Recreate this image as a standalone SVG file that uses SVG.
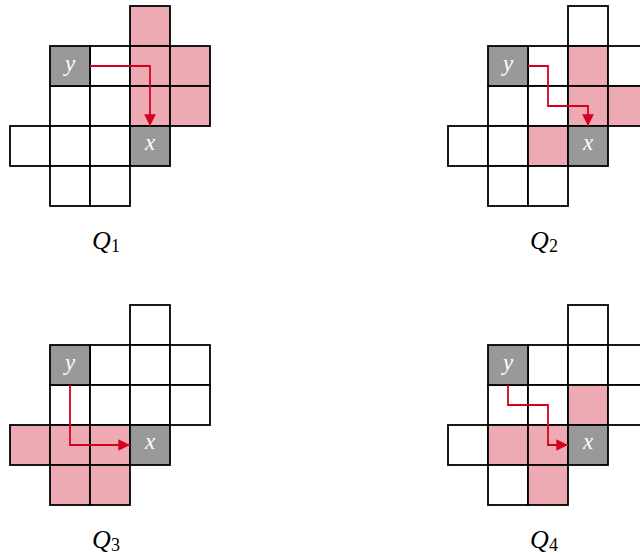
<svg xmlns="http://www.w3.org/2000/svg" width="640" height="557" viewBox="0 0 640 557">
<defs>
<style>
.c{fill:#ffffff;stroke:#000;stroke-width:1.8}
.p{fill:#EDAAB3;stroke:#000;stroke-width:1.8}
.g{fill:#999999;stroke:#000;stroke-width:1.8}
.v{font-family:"Liberation Serif","DejaVu Serif",serif;font-style:italic;font-size:23px;fill:#fff;text-anchor:middle}
.q{font-family:"Liberation Serif","DejaVu Serif",serif;font-style:italic;font-size:26px;fill:#000}
.s{font-family:"Liberation Serif","DejaVu Serif",serif;font-size:18px;fill:#000}
.a{fill:none;stroke:#D5001E;stroke-width:1.8;marker-end:url(#ah)}
</style>
<marker id="ah" viewBox="0 0 10 10" refX="10" refY="5" markerWidth="6.5" markerHeight="6.5" markerUnits="strokeWidth" orient="auto">
<path d="M0,0 L10,5 L0,10 Z" fill="#D5001E"/>
</marker>
</defs>

<g id="Q1">
<rect class="p" x="130" y="6" width="40" height="40"/>
<rect class="c" x="90" y="46" width="40" height="40"/>
<rect class="p" x="130" y="46" width="40" height="40"/>
<rect class="p" x="170" y="46" width="40" height="40"/>
<rect class="c" x="50" y="86" width="40" height="40"/>
<rect class="c" x="90" y="86" width="40" height="40"/>
<rect class="p" x="130" y="86" width="40" height="40"/>
<rect class="p" x="170" y="86" width="40" height="40"/>
<rect class="c" x="10" y="126" width="40" height="40"/>
<rect class="c" x="50" y="126" width="40" height="40"/>
<rect class="c" x="90" y="126" width="40" height="40"/>
<rect class="c" x="50" y="166" width="40" height="40"/>
<rect class="c" x="90" y="166" width="40" height="40"/>
<g id="Q1-y"><rect class="g" x="50" y="46" width="40" height="40"/><text class="v" x="70" y="71">y</text></g>
<g id="Q1-x"><rect class="g" x="130" y="126" width="40" height="40"/><text class="v" x="150" y="150">x</text></g>
<g id="Q1-label"><text class="q" x="92" y="249">Q</text><text class="s" x="111" y="252">1</text></g>
</g>

<g id="Q2">
<rect class="c" x="568" y="6" width="40" height="40"/>
<rect class="c" x="528" y="46" width="40" height="40"/>
<rect class="p" x="568" y="46" width="40" height="40"/>
<rect class="c" x="608" y="46" width="40" height="40"/>
<rect class="c" x="488" y="86" width="40" height="40"/>
<rect class="c" x="528" y="86" width="40" height="40"/>
<rect class="p" x="568" y="86" width="40" height="40"/>
<rect class="p" x="608" y="86" width="40" height="40"/>
<rect class="c" x="448" y="126" width="40" height="40"/>
<rect class="c" x="488" y="126" width="40" height="40"/>
<rect class="p" x="528" y="126" width="40" height="40"/>
<rect class="c" x="488" y="166" width="40" height="40"/>
<rect class="c" x="528" y="166" width="40" height="40"/>
<g id="Q2-y"><rect class="g" x="488" y="46" width="40" height="40"/><text class="v" x="508" y="71">y</text></g>
<g id="Q2-x"><rect class="g" x="568" y="126" width="40" height="40"/><text class="v" x="588" y="150">x</text></g>
<g id="Q2-label"><text class="q" x="530" y="249">Q</text><text class="s" x="549" y="252">2</text></g>
</g>

<g id="Q3">
<rect class="c" x="130" y="305" width="40" height="40"/>
<rect class="c" x="90" y="345" width="40" height="40"/>
<rect class="c" x="130" y="345" width="40" height="40"/>
<rect class="c" x="170" y="345" width="40" height="40"/>
<rect class="c" x="50" y="385" width="40" height="40"/>
<rect class="c" x="90" y="385" width="40" height="40"/>
<rect class="c" x="130" y="385" width="40" height="40"/>
<rect class="c" x="170" y="385" width="40" height="40"/>
<rect class="p" x="10" y="425" width="40" height="40"/>
<rect class="p" x="50" y="425" width="40" height="40"/>
<rect class="p" x="90" y="425" width="40" height="40"/>
<rect class="p" x="50" y="465" width="40" height="40"/>
<rect class="p" x="90" y="465" width="40" height="40"/>
<g id="Q3-y"><rect class="g" x="50" y="345" width="40" height="40"/><text class="v" x="70" y="370">y</text></g>
<g id="Q3-x"><rect class="g" x="130" y="425" width="40" height="40"/><text class="v" x="150" y="449">x</text></g>
<g id="Q3-label"><text class="q" x="92" y="548">Q</text><text class="s" x="111" y="551">3</text></g>
</g>

<g id="Q4">
<rect class="c" x="568" y="305" width="40" height="40"/>
<rect class="c" x="528" y="345" width="40" height="40"/>
<rect class="c" x="568" y="345" width="40" height="40"/>
<rect class="c" x="608" y="345" width="40" height="40"/>
<rect class="c" x="488" y="385" width="40" height="40"/>
<rect class="c" x="528" y="385" width="40" height="40"/>
<rect class="p" x="568" y="385" width="40" height="40"/>
<rect class="c" x="608" y="385" width="40" height="40"/>
<rect class="c" x="448" y="425" width="40" height="40"/>
<rect class="p" x="488" y="425" width="40" height="40"/>
<rect class="p" x="528" y="425" width="40" height="40"/>
<rect class="c" x="488" y="465" width="40" height="40"/>
<rect class="p" x="528" y="465" width="40" height="40"/>
<g id="Q4-y"><rect class="g" x="488" y="345" width="40" height="40"/><text class="v" x="508" y="370">y</text></g>
<g id="Q4-x"><rect class="g" x="568" y="425" width="40" height="40"/><text class="v" x="588" y="449">x</text></g>
<g id="Q4-label"><text class="q" x="530" y="548">Q</text><text class="s" x="549" y="551">4</text></g>
</g>

<g id="connectors">
<path class="a" d="M90,66 H150 V126"/>
<path class="a" d="M528,66 H548 V106 H588 V126"/>
<path class="a" d="M70,385 V445 H130"/>
<path class="a" d="M508,385 V405 H548 V445 H568"/>
</g>
</svg>
